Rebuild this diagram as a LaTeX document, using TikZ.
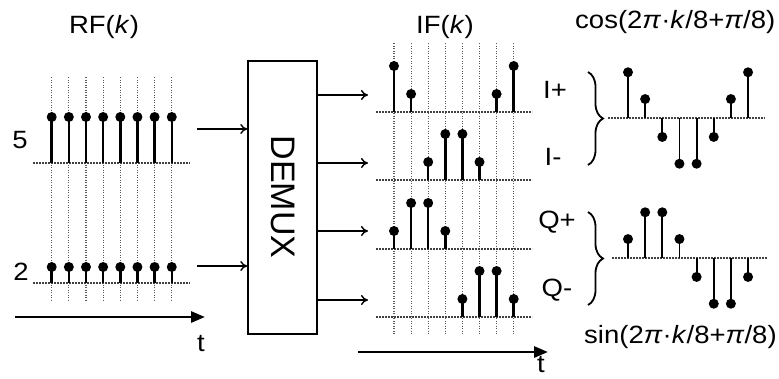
\documentclass[tikz,border=0pt]{standalone}
\usepackage{fontspec}
\setmainfont{Liberation Sans}
\usetikzlibrary{arrows.meta,decorations.pathreplacing}
\begin{document}
\begin{tikzpicture}[x=1pt,y=-1pt,
  lbl/.style={font=\fontsize{25}{30}\selectfont, inner sep=0pt, xscale=1.1, anchor=base},
  gridline/.style={dash pattern=on 1.2pt off 1.3pt, line width=1.1pt, black!65},
  baseline/.style={dash pattern=on 2pt off 1pt, line width=1.1pt, black!75},
  stemline/.style={line width=2.5pt},
  thinarrow/.style={line width=1.4pt, -{To[length=7pt,width=10pt]}},
  timeaxis/.style={line width=2.8pt, -{Triangle[length=14pt,width=11pt]}},
  bracestyle/.style={decorate, decoration={brace, amplitude=15pt}, line width=1.8pt}]
\useasboundingbox (0,0) rectangle (779,378);

% ---------- RF panel ----------
\node[lbl] (rf) at (104,33) {RF(\textit{k})};
\node[lbl] (five) at (20,148) {5};
\node[lbl] (two) at (21,280) {2};
\draw[baseline] (33,163) -- (190,163);
\draw[baseline] (33,283) -- (190,283);
\foreach \i in {0,...,7}{
  \pgfmathsetmacro\xx{51.7+17.15*\i}
  \draw[gridline] (\xx,77) -- (\xx,300);
  \draw[stemline] (\xx,163) -- (\xx,117);
  \fill (\xx,117) circle (5pt);
  \draw[stemline] (\xx,283) -- (\xx,267);
  \fill (\xx,267) circle (5pt);
}
\coordinate (ta1) at (15,317);
\coordinate (tb1) at (205,317);
\draw[timeaxis] (ta1) -- (tb1);
\node[lbl] (t1) at (201,351) {t};

% ---------- DEMUX ----------
\node[draw, line width=1.4pt, minimum width=69pt, minimum height=273pt, inner sep=0pt] (demux) at (282.5,197.5) {};
\node[font=\fontsize{34}{38}\selectfont, rotate=-90, inner sep=0pt] (demuxtxt) at (283,197) {DEMUX};
\coordinate (in1) at (197,129);
\coordinate (in2) at (197,266);
\draw[thinarrow] (in1) -- (in1 -| demux.west);
\draw[thinarrow] (in2) -- (in2 -| demux.west);
\foreach \yy/\nm in {95/o1,163/o2,231/o3,300/o4}{
  \coordinate (\nm) at (368,\yy);
  \draw[thinarrow] (\nm -| demux.east) -- (\nm);
}

% ---------- IF panel ----------
\node[lbl] (if) at (445,33) {IF(\textit{k})};
\foreach \i in {0,...,7}{
  \pgfmathsetmacro\xx{394+17.1*\i}
  \draw[gridline] (\xx,43) -- (\xx,334);
}
\foreach \b in {112,180,249,317}{
  \draw[baseline] (376,\b) -- (532,\b);
}
\foreach \b/\k/\h in {112/0/46,112/1/18,112/6/18,112/7/46,
                      180/2/18,180/3/46,180/4/46,180/5/18,
                      249/0/18,249/1/46,249/2/46,249/3/18,
                      317/4/18,317/5/46,317/6/46,317/7/18}{
  \pgfmathsetmacro\xx{394+17.1*\k}
  \pgfmathsetmacro\yy{\b-\h}
  \draw[stemline] (\xx,\b) -- (\xx,\yy);
  \fill (\xx,\yy) circle (5pt);
}
\coordinate (ta2) at (358,352);
\coordinate (tb2) at (548,352);
\draw[timeaxis] (ta2) -- (tb2);
\node[lbl] (t2) at (541,372) {t};

% ---------- right panel ----------
\node[lbl, anchor=base west] (cosl) at (575,28) {cos(2\textit{π}·\textit{k}/8+\textit{π}/8)};
\node[lbl, anchor=base west] (sinl) at (584,343) {sin(2\textit{π}·\textit{k}/8+\textit{π}/8)};
\node[lbl] (ip) at (555,98) {I+};
\node[lbl] (im) at (553,165) {I-};
\node[lbl] (qp) at (557,228) {Q+};
\node[lbl] (qm) at (557,296) {Q-};
\draw[bracestyle] (588,72) -- (588,165);
\draw[bracestyle] (588,212) -- (588,305);
\draw[baseline] (608,118) -- (765,118);
\draw[baseline] (612,258) -- (767,258);
\foreach \k in {0,...,7}{
  \pgfmathsetmacro\xx{628+17.15*\k}
  \pgfmathsetmacro\yc{118-49.5*cos(45*\k+22.5)}
  \pgfmathsetmacro\ys{258-49.5*sin(45*\k+22.5)}
  \draw[stemline, line width=1.8pt] (\xx,118) -- (\xx,\yc);
  \fill (\xx,\yc) circle (5pt);
  \draw[stemline, line width=1.8pt] (\xx,258) -- (\xx,\ys);
  \fill (\xx,\ys) circle (5pt);
}
\end{tikzpicture}
\end{document}
